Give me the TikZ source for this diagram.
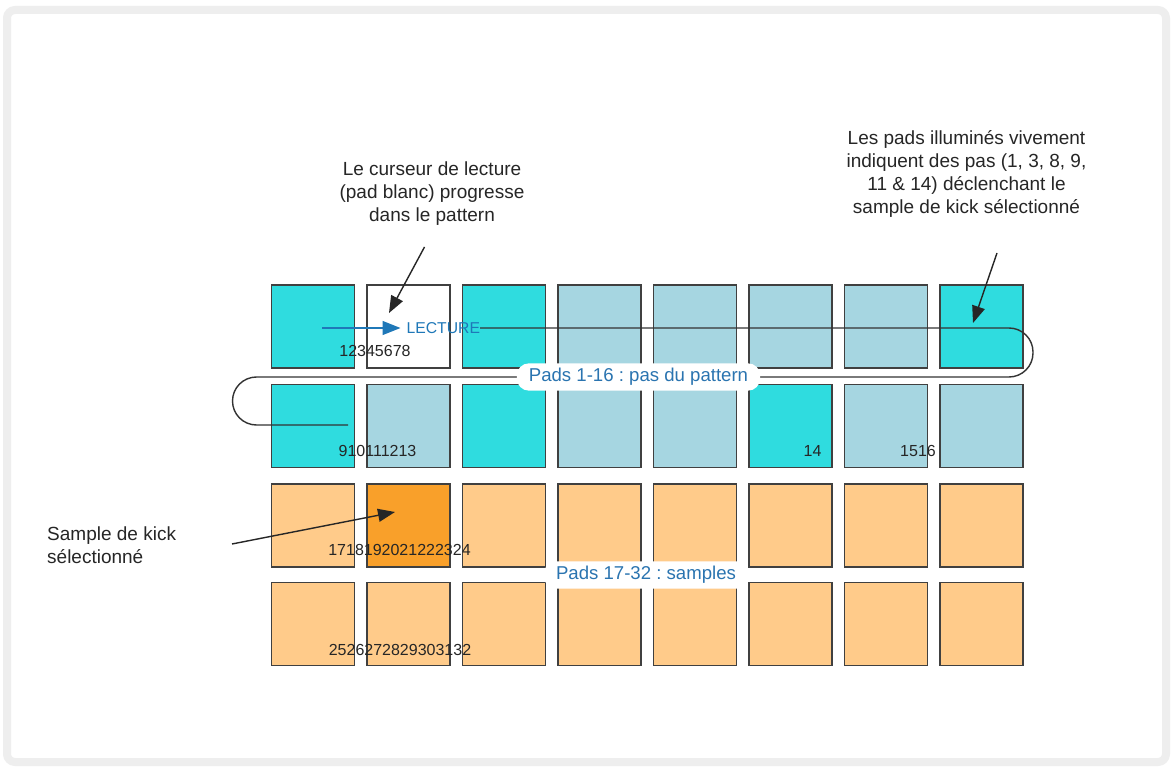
\documentclass[tikz,border=0pt]{standalone}
\usepackage{fontspec}
\setmainfont{Liberation Sans}
\usetikzlibrary{arrows.meta}
\frenchspacing
\definecolor{cyanB}{HTML}{2FDCDF}
\definecolor{blueL}{HTML}{A6D6E1}
\definecolor{orL}{HTML}{FFCB8A}
\definecolor{orD}{HTML}{F9A02A}
\definecolor{padline}{HTML}{404040}
\definecolor{lblue}{HTML}{2A74B0}
\definecolor{arrblue}{HTML}{1F78B8}
\definecolor{framegray}{HTML}{EEEEEE}
\definecolor{linegray}{HTML}{333333}
\begin{document}
\begin{tikzpicture}[x=1pt,y=-1pt,
  pad/.style={draw=padline,line width=1.4pt,minimum width=83pt,minimum height=83pt,inner sep=0pt},
  num/.style={inner sep=0pt,font=\fontsize{16}{19}\selectfont,text=black!85},
  annot/.style={inner sep=0pt,align=center,font=\fontsize{19}{23.3}\selectfont,text=black!85},
  padlabel/.style={fill=white,rounded corners=12pt,inner xsep=12pt,inner ysep=5pt,text=lblue,font=\fontsize{18.6}{22}\selectfont},
  callout/.style={draw=black!85,line width=1.4pt,-{Triangle[length=17pt,width=13pt]}},
  serp/.style={draw=linegray,line width=1.4pt,rounded corners=24pt}]
\useasboundingbox (0,0) rectangle (1173,767);
\fill[white] (0,0) rectangle (1173,767);
\draw[framegray,line width=8pt,rounded corners=8pt] (7,10) rectangle (1166,762);
% row 1
\foreach \c [count=\i] in {cyanB,white,cyanB,blueL,blueL,blueL,blueL,cyanB}
  \node[pad,fill=\c] (p\i) at ({313+95.5*(\i-1)},326.5) {};
% row 2
\foreach \c [count=\i from 9] in {cyanB,blueL,cyanB,blueL,blueL,cyanB,blueL,blueL}
  \node[pad,fill=\c] (p\i) at ({313+95.5*(\i-9)},426) {};
% row 3
\foreach \c [count=\i from 17] in {orL,orD,orL,orL,orL,orL,orL,orL}
  \node[pad,fill=\c] (p\i) at ({313+95.5*(\i-17)},525.5) {};
% row 4
\foreach \c [count=\i from 25] in {orL,orL,orL,orL,orL,orL,orL,orL}
  \node[pad,fill=\c] (p\i) at ({313+95.5*(\i-25)},624) {};
% numbers
\node[num] (n1) at (375,351) {12345678};
\node[num] (n9) at (377.5,451) {910111213};
\node[num] (n14) at (812.5,451) {14};
\node[num] (n15) at (918,451) {1516};
\node[num] (n17) at (399.5,550) {1718192021222324};
\node[num] (n25) at (400,650) {2526272829303132};
% lecture
\node[inner sep=0pt,anchor=west,text=arrblue,font=\fontsize{15.7}{18}\selectfont] (lect) at (406.5,328) {LECTURE};
\coordinate (lstart) at (322,328);
\draw[arrblue,line width=1.4pt,-{Triangle[length=18pt,width=14pt]},shorten >=6pt] (lstart) -- (lect.west);
% serpentine path
\coordinate (s1) at (1033,328);
\coordinate (s2) at (1033,377);
\coordinate (s3) at (232.5,377);
\coordinate (s4) at (232.5,425);
\coordinate (send) at (348,425);
\draw[serp] (lect.east) -- (s1) -- (s2) -- (s3) -- (s4) -- (send);
% pad labels
\node[padlabel] (lab1) at (638.5,377) {Pads 1-16 : pas du pattern};
\node[padlabel] (lab2) at (646,575) {Pads 17-32 : samples};
% annotations
\node[annot] (t1) at (432,193.5) {Le curseur de lecture\\(pad blanc) progresse\\dans le pattern};
\node[annot] (t2) at (966.5,174) {Les pads illuminés vivement\\indiquent des pas (1, 3, 8, 9,\\11 \& 14) déclenchant le\\sample de kick sélectionné};
\node[annot,align=left,anchor=west] (t3) at (47,545.5) {Sample de kick\\sélectionné};
\coordinate (a1s) at (424.5,247);
\coordinate (a1e) at (389,313);
\coordinate (a2s) at (997,253);
\coordinate (a2e) at (973,323);
\coordinate (a3s) at (232,544);
\coordinate (a3e) at (395,512);
\draw[callout] (a1s) -- (a1e);
\draw[callout] (a2s) -- (a2e);
\draw[callout] (a3s) -- (a3e);
\end{tikzpicture}
\end{document}
